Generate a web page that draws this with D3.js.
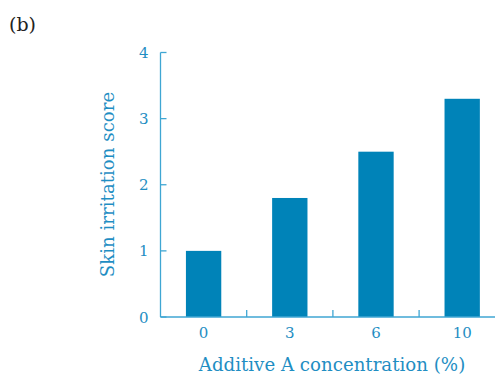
<!DOCTYPE html>
<html><head><meta charset="utf-8">
<script src="https://cdn.jsdelivr.net/npm/d3@7"></script>
<style>body{margin:0;background:#fff}svg{display:block}</style>
</head><body>
<svg id="c" width="495" height="376"></svg>
<script>
const categories = ["0", "3", "6", "10"];
const values = [1.0, 1.8, 2.5, 3.3];
const yTicks = [0, 1, 2, 3, 4];
const panelLabel = "(b)";
const xTitle = "Additive A concentration (%)";
const yTitle = "Skin irritation score";

const barColor = "#0083b8", textColor = "#1f8ec3", axisColor = "#3fa6d3";
const font = "'DejaVu Serif', serif";
const svg = d3.select("#c");
const x0 = 160.5, yBase = 317;
const x = d3.scaleBand().domain(categories).range([x0, x0 + 86.2 * 4]).padding(0);
const y = d3.scaleLinear().domain([0, 4]).range([yBase, 52.5]);
const bw = x.bandwidth() * 0.41;

svg.append("text").attr("x", 9).attr("y", 31).attr("font-family", font)
  .attr("font-size", 19).attr("fill", "#222").text(panelLabel);

// bars
svg.selectAll("rect.bar").data(values).join("rect").attr("class", "bar")
  .attr("x", (d, i) => x(categories[i]) + x.bandwidth() / 2 - bw / 2)
  .attr("width", bw)
  .attr("y", d => y(d)).attr("height", d => y(0) - y(d))
  .attr("fill", barColor);

// y axis
const ya = svg.append("g").attr("transform", `translate(${x0},0)`);
ya.append("line").attr("y1", y(4)).attr("y2", y(0)).attr("stroke", axisColor).attr("stroke-width", 1.3);
ya.selectAll("line.t").data(yTicks).join("line").attr("class", "t")
  .attr("x1", 0).attr("x2", 6).attr("y1", d => y(d)).attr("y2", d => y(d))
  .attr("stroke", axisColor).attr("stroke-width", 1.3);
ya.selectAll("text").data(yTicks).join("text")
  .attr("x", -12).attr("y", d => y(d) + 5.5).attr("text-anchor", "end")
  .attr("font-family", font).attr("font-size", 15).attr("fill", textColor).text(d => d);

// x axis
const xa = svg.append("g");
xa.append("line").attr("x1", x0).attr("x2", 495).attr("y1", yBase).attr("y2", yBase)
  .attr("stroke", axisColor).attr("stroke-width", 1.5);
xa.selectAll("line.t").data(categories.slice(1)).join("line").attr("class", "t")
  .attr("x1", d => x(d)).attr("x2", d => x(d)).attr("y1", yBase).attr("y2", yBase - 7)
  .attr("stroke", axisColor).attr("stroke-width", 1.3);
xa.selectAll("text").data(categories).join("text")
  .attr("x", d => x(d) + x.bandwidth() / 2).attr("y", 338).attr("text-anchor", "middle")
  .attr("font-family", font).attr("font-size", 15).attr("fill", textColor).text(d => d);

svg.append("text").attr("x", 332).attr("y", 371).attr("text-anchor", "middle")
  .attr("font-family", font).attr("font-size", 18.2).attr("fill", textColor).text(xTitle);
svg.append("text").attr("transform", "translate(114,184.5) rotate(-90)").attr("text-anchor", "middle")
  .attr("font-family", font).attr("font-size", 18.2).attr("fill", textColor).text(yTitle);
</script>
</body></html>
